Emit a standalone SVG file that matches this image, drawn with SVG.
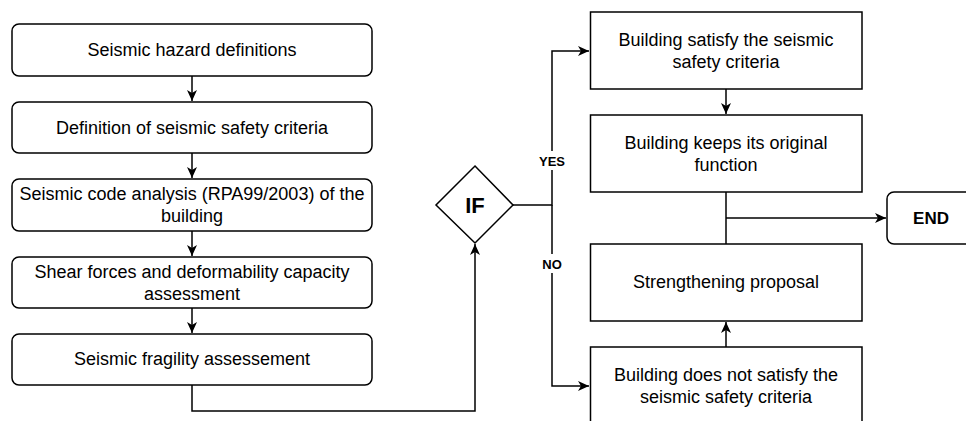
<svg xmlns="http://www.w3.org/2000/svg" width="966" height="421" viewBox="0 0 966 421">
<style>
.box{fill:#fff;stroke:#000;stroke-width:1.5}
.t{font-family:"Liberation Sans",Arial,sans-serif;font-size:18px;fill:#000;text-anchor:middle}
.b{font-family:"Liberation Sans",Arial,sans-serif;font-weight:bold;fill:#000;text-anchor:middle}
.c{fill:none;stroke:#000;stroke-width:1.5}
</style>
<defs>
<marker id="arr" markerUnits="userSpaceOnUse" markerWidth="12" markerHeight="10" refX="11" refY="5" orient="auto" viewBox="0 0 12 10">
<path d="M0,0 L11,5 L0,10 L3,5 Z" fill="#000"/>
</marker>
</defs>
<rect width="966" height="421" fill="#fff"/>
<g id="connectors">
<path class="c" d="M192,76 V101" marker-end="url(#arr)"/>
<path class="c" d="M192,153 V178" marker-end="url(#arr)"/>
<path class="c" d="M192,231 V256" marker-end="url(#arr)"/>
<path class="c" d="M192,308 V333" marker-end="url(#arr)"/>
<path class="c" d="M192,385 V411 H475 V244" marker-end="url(#arr)"/>
<path class="c" d="M513,205 H552 V51 H589" marker-end="url(#arr)"/>
<path class="c" d="M552,205 V386 H589" marker-end="url(#arr)"/>
<path class="c" d="M726,89 V114" marker-end="url(#arr)"/>
<path class="c" d="M726,192 V244"/>
<path class="c" d="M726,218 H886" marker-end="url(#arr)"/>
<path class="c" d="M726,347 V322" marker-end="url(#arr)"/>
<rect x="539" y="151" width="27" height="19" fill="#fff"/>
<text class="b" x="552" y="166" font-size="13">YES</text>
<rect x="541" y="254" width="23" height="19" fill="#fff"/>
<text class="b" x="552" y="269" font-size="13">NO</text>
</g>
<g id="n1"><rect class="box" x="12" y="24" width="360" height="52" rx="7"/><text class="t" x="192" y="56">Seismic hazard definitions</text></g>
<g id="n2"><rect class="box" x="12" y="102" width="360" height="51" rx="7"/><text class="t" x="192" y="134">Definition of seismic safety criteria</text></g>
<g id="n3"><rect class="box" x="12" y="179" width="360" height="52" rx="7"/><text class="t" x="192" y="200">Seismic code analysis (RPA99/2003) of the</text><text class="t" x="192" y="222">building</text></g>
<g id="n4"><rect class="box" x="12" y="257" width="360" height="51" rx="7"/><text class="t" x="192" y="278">Shear forces and deformability capacity</text><text class="t" x="192" y="300">assessment</text></g>
<g id="n5"><rect class="box" x="12" y="334" width="360" height="51" rx="7"/><text class="t" x="192" y="365">Seismic fragility assessement</text></g>
<g id="ifnode"><polygon class="box" points="475,166 513,205 475,243 436,205"/><text class="b" x="475" y="213" font-size="22">IF</text></g>
<g id="r1"><rect class="box" x="590.5" y="12" width="271.5" height="77"/><text class="t" x="726" y="46">Building satisfy the seismic</text><text class="t" x="726" y="68">safety criteria</text></g>
<g id="r2"><rect class="box" x="590.5" y="115" width="271.5" height="77"/><text class="t" x="726" y="149">Building keeps its original</text><text class="t" x="726" y="171">function</text></g>
<g id="r3"><rect class="box" x="590.5" y="244" width="271.5" height="77"/><text class="t" x="726" y="288">Strengthening proposal</text></g>
<g id="r4"><rect class="box" x="590.5" y="347" width="271.5" height="77"/><text class="t" x="726" y="381">Building does not satisfy the</text><text class="t" x="726" y="403">seismic safety criteria</text></g>
<g id="end"><rect class="box" x="887" y="192" width="90" height="52" rx="7"/><text class="b" x="931" y="224" font-size="17">END</text></g>
</svg>
